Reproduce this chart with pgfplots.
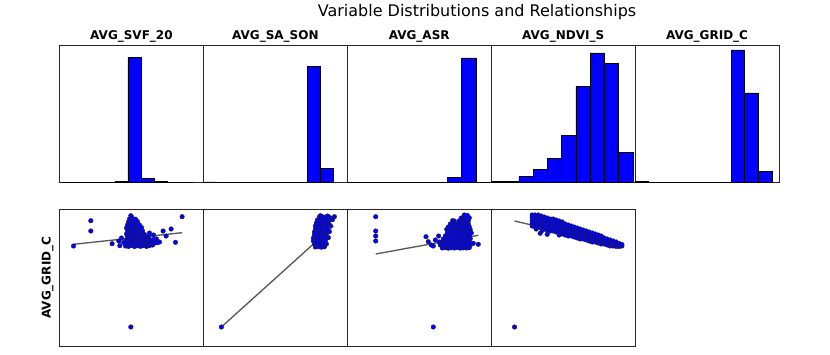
\documentclass[border=0pt]{standalone}
\usepackage{pgfplots}
\pgfplotsset{compat=1.18}
\usepackage{fontspec}
\setmainfont{DejaVu Sans}
\pgfplotsset{
  panel/.style={scale only axis, width=143.9pt, xmin=0, xmax=143.9, ymin=0,
    xtick=\empty, ytick=\empty, axis line style={line width=0.9pt, black!85}, anchor=south west},
  toprow/.style={panel, height=137.3pt, ymax=137.3},
  botrow/.style={panel, height=136.7pt, ymax=136.7},
  hist/.style={ybar interval, fill=blue, draw=black, line width=0.7pt},
  pts/.style={only marks, mark=*, mark size=2.3pt, mark options={fill=blue, draw=black!85, line width=0.4pt}},
  reg/.style={black!65, line width=1.35pt},
}
\begin{document}
\begin{tikzpicture}[x=1pt,y=1pt]
\path[use as bounding box] (0,0) rectangle (830,354);
\node[anchor=base] at (477,337.3) {\fontsize{16}{18}\selectfont Variable Distributions and Relationships};
\foreach \lx/\t in {59.5/AVG\_SVF\_20, 203.4/AVG\_SA\_SON, 347.3/AVG\_ASR, 491.2/AVG\_NDVI\_S, 635.1/AVG\_GRID\_C}{
  \node[anchor=base] at (\lx+71.95,314) {\fontsize{12}{14}\selectfont\bfseries \t};
}
\node[rotate=90, anchor=base] at (50.7,76.3) {\fontsize{12}{14}\selectfont\bfseries AVG\_GRID\_C};

% ---------- top row: histograms ----------
\begin{axis}[toprow, at={(59.5,171.7)}]
\addplot[hist] coordinates {(3.4,0) (16.4,0) (29.4,0) (42.4,0) (55.4,0.5) (68.4,125) (81.4,4.3) (94.4,0.5) (107.4,0.3) (120.4,0) (133.4,0)};
\end{axis}
\begin{axis}[toprow, at={(203.4,171.7)}]
\addplot[hist] coordinates {(0,0.4) (13,0) (26,0) (39,0) (52,0) (65,0) (78,0) (91,0) (104,116) (117,14.3) (130,0)};
\end{axis}
\begin{axis}[toprow, at={(347.3,171.7)}]
\addplot[hist] coordinates {(0,0.3) (14.3,0) (28.6,0) (42.9,0) (57.2,0) (71.5,0.3) (85.8,0.3) (100.1,4.7) (114.4,124.3) (128.7,0) (143,0)};
\end{axis}
\begin{axis}[toprow, at={(491.2,171.7)}]
\addplot[hist] coordinates {(0,0.5) (13.4,0.5) (27.7,6) (42,13.3) (56,24.3) (70.4,47) (84.7,96) (99,129.3) (113.4,119) (127.4,29.7) (141.7,0)};
\end{axis}
\begin{axis}[toprow, at={(635.1,171.7)}]
\addplot[hist] coordinates {(0,0.5) (13.7,0) (27.4,0) (41.1,0) (54.8,0) (68.5,0) (82.2,0) (95.9,132.3) (109.6,89.3) (123.3,11.3) (137,0)};
\end{axis}

% ---------- bottom row: scatter vs AVG_GRID_C ----------
\begin{axis}[botrow, at={(59.5,8)}]
\addplot[pts] coordinates {
(14,100) (31.3,125.3) (31.3,115) (71.3,19) (122.6,129.3) (116,103.7) (111.6,117) (103.6,115) (106.6,110)
(52.6,102.3) (60.3,100.3) (59.3,105) (64,103.5) (62,108) (97,107) (100,104) (94,111) (90,113)
(66,100) (69,99.5) (72,100.5) (75,99.4) (78,100.2) (81,99.6) (84,100.4) (87,99.5) (90,100.3) (93,101)
(68,103) (71,103.4) (74,102.8) (77,103.2) (80,103.5) (83,102.9) (86,103.3) (89,103) (92,103.6) (95,102.8) (98,103.4)
(67,106) (70,106.3) (73,105.8) (76,106.4) (79,106) (82,106.2) (85,105.7) (88,106.3) (91,106.1) (94,106.5)
(68,109) (71,109.3) (74,108.8) (77,109.4) (80,109) (83,109.2) (86,108.7) (89,109.5)
(67,112) (70,112.3) (73,111.7) (76,112.4) (79,112) (82,112.2) (85,111.6)
(68,115) (71,115.3) (74,114.8) (77,115.4) (80,115) (83,115.2)
(67,118) (70,118.3) (73,117.8) (76,118.4) (79,118) (82,118.5)
(68,121) (71,121.3) (74,120.8) (77,121.4) (80,121)
(69,124) (72,124.3) (75,123.8) (78,124.4)
(70,127) (73,127.3) (76,126.8) (71.3,130.3) (72.5,128.5)
};
\addplot[reg] coordinates {(14,101.7) (122.6,113.3)};
\end{axis}

\begin{axis}[botrow, at={(203.4,8)}]
\addplot[pts] coordinates {
(18,19)
(112,99) (115,99.3) (118,98.8) (121,99.2)
(111,102) (114,102.3) (117,101.8) (120,102.2) (123,102)
(110,105) (113,105.3) (116,104.8) (119,105.2) (122,105)
(110,108) (113,108.3) (116,107.8) (119,108.2) (122,108) (125,108.4)
(111,111) (114,111.3) (117,110.8) (120,111.2) (123,111)
(111,114) (114,114.3) (117,113.8) (120,114.2) (123,114) (126,114.4)
(112,117) (115,117.3) (118,116.8) (121,117.2) (124,117)
(112,120) (115,120.3) (118,119.8) (121,120.2) (124,120) (127,120.4)
(113,123) (116,123.3) (119,122.8) (122,123.2) (125,123)
(114,126) (117,126.3) (120,125.8) (123,126.2) (126,126) (129,126.4)
(116,129) (119,129.3) (122,128.8) (125,129.2)
(117,130.3) (124,130) (127,128) (131,129.3)
};
\addplot[reg] coordinates {(18,19) (130,120)};
\end{axis}

\begin{axis}[botrow, at={(347.3,8)}]
\addplot[pts] coordinates {
(28.4,129.3) (28.4,115) (28.4,110) (28.4,105) (86,19)
(78.7,109.3) (81,104.3) (86,100) (91.3,110) (94.3,102.7) (99.4,116.7) (103,119.3) (105.3,125.3) (88,106) (84,101)
(95,98) (98,98.3) (101,97.8) (104,98.2) (107,98) (110,98.4) (113,97.9) (116,98.2) (119,98) (122,98.3)
(93,101) (96,101.3) (99,100.8) (102,101.2) (105,101) (108,101.4) (111,100.9) (114,101.2) (117,101) (120,101.3) (123,101) (126,102.7) (131,101.7)
(92,104) (95,104.3) (98,103.8) (101,104.2) (104,104) (107,104.4) (110,103.9) (113,104.2) (116,104) (119,104.3) (122,104)
(96,107) (99,107.3) (102,106.8) (105,107.2) (108,107) (111,107.4) (114,106.9) (117,107.2) (120,107) (123,107.3)
(98,110) (101,110.3) (104,109.8) (107,110.2) (110,110) (113,110.4) (116,109.9) (119,110.2) (122,110)
(100,113) (103,113.3) (106,112.8) (109,113.2) (112,113) (115,113.4) (118,112.9) (121,113.2) (124,113)
(102,116) (105,116.3) (108,115.8) (111,116.2) (114,116) (117,116.4) (120,115.9) (123,116.2)
(101,119) (104,119.3) (107,118.8) (110,119.2) (113,119) (116,119.4) (119,118.9) (122,119.2)
(103,122) (106,122.3) (109,121.8) (112,122.2) (115,122) (118,122.4) (121,121.9)
(107,125) (112,125.3) (115,124.8) (118,125.2) (121,125)
(114,128) (117,128.3) (120,127.8) (122,128.2)
(117,131) (120,130.6)
};
\addplot[reg] coordinates {(28.4,92) (131,110.7)};
\end{axis}

\begin{axis}[botrow, at={(491.2,8)}]
\addplot[pts] coordinates {
(23.3,19)
(49,112.7) (51,115.5) (56,111.7) (68,111) (45,117)
(41,120) (41,123) (41,126) (41,129) (41,131)
(44,119) (44,122) (44,125) (44,128) (44,131)
(47,119) (47,122) (47,125) (47,128) (47,131)
(50,118) (50,121) (50,124) (50,127) (50,130)
(53,117) (53,120) (53,123) (53,126) (53,129)
(56,116) (56,119) (56,122) (56,125) (56,128)
(59,115) (59,118) (59,121) (59,124) (59,127)
(62,115) (62,118) (62,121) (62,124) (62,127)
(65,114) (65,117) (65,120) (65,123) (65,126)
(68,113) (68,116) (68,119) (68,122) (68,125)
(71,112) (71,115) (71,118) (71,121) (71,124)
(74,111) (74,114) (74,117) (74,120) (74,122)
(77,110) (77,113) (77,116) (77,119) (77,121)
(80,110) (80,113) (80,116) (80,118) (80,120)
(83,109) (83,112) (83,115) (83,117) (83,119)
(86,108) (86,111) (86,114) (86,116) (86,118)
(89,107) (89,110) (89,113) (89,115) (89,117)
(92,107) (92,109) (92,112) (92,114) (92,116)
(95,106) (95,108) (95,111) (95,113) (95,115)
(98,105) (98,107) (98,110) (98,112) (98,114)
(101,104) (101,107) (101,109) (101,111) (101,113)
(104,104) (104,106) (104,108) (104,110) (104,112)
(107,103) (107,105) (107,107) (107,109) (107,111)
(110,102) (110,104) (110,106) (110,108) (110,110)
(113,102) (113,104) (113,106) (113,108)
(116,101) (116,103) (116,105) (116,107)
(119,100) (119,102) (119,104) (119,106)
(122,100) (122,102) (122,104) (122,105)
(125,99.5) (125,101) (125,103) (125,104)
(128,99.5) (128,101) (128,102.5)
(130.7,100) (130.7,101.5)
};
\addplot[reg] coordinates {(23.3,125) (130.7,100)};
\end{axis}
\end{tikzpicture}
\end{document}
